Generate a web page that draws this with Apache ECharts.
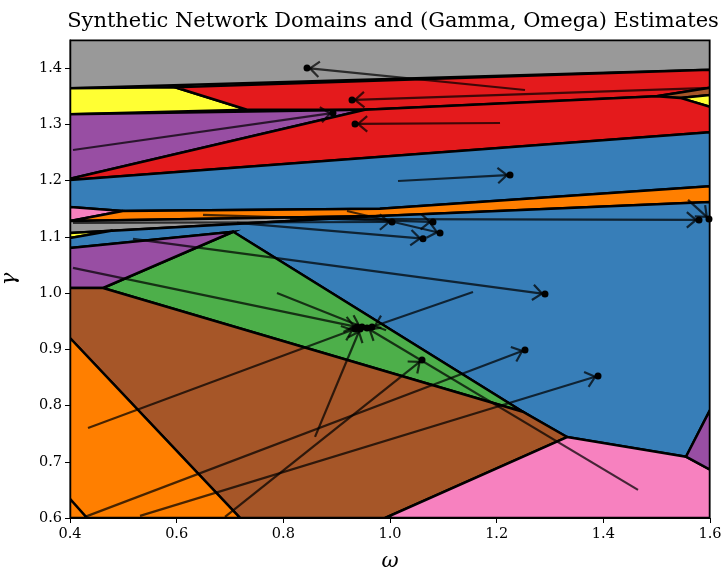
<!DOCTYPE html>
<html><head><meta charset="utf-8">
<script src="https://cdn.jsdelivr.net/npm/echarts@6/dist/echarts.min.js"></script>
<style>html,body{margin:0;padding:0;background:#fff}#c{width:723px;height:571px}</style>
</head><body><div id="c"></div>
<script>
// ---- tick labels ----
const xTicks = [0.4, 0.6, 0.8, 1.0, 1.2, 1.4, 1.6];
const yTicks = [0.6, 0.7, 0.8, 0.9, 1.0, 1.1, 1.2, 1.3, 1.4];

// ---- domain polygons (omega, gamma) ----
const grayTop     = [[0.4,1.45],[1.6,1.45],[1.6,1.397],[0.4,1.364]];
const yellowTop   = [[0.4,1.364],[0.597,1.366],[0.732,1.326],[0.4,1.318]];
const redUpper    = [[0.597,1.366],[1.6,1.397],[1.6,1.365],[1.5,1.35],[0.953,1.326],[0.732,1.326]];
const brownSliver = [[1.5,1.35],[1.6,1.365],[1.6,1.352],[1.544,1.347]];
const yellowRight = [[1.544,1.347],[1.6,1.352],[1.6,1.331]];
const purpleTop   = [[0.4,1.318],[0.953,1.326],[0.4,1.203]];
const redLower    = [[0.4,1.203],[0.953,1.326],[1.5,1.35],[1.544,1.347],[1.6,1.331],[1.6,1.286],[0.4,1.201]];
const blueUpper   = [[0.4,1.201],[1.6,1.286],[1.6,1.190],[0.981,1.150],[0.499,1.146],[0.4,1.153]];
const pinkLeft    = [[0.4,1.153],[0.499,1.146],[0.4,1.128]];
const orangeBand  = [[0.4,1.128],[0.499,1.146],[0.981,1.150],[1.6,1.190],[1.6,1.162],[0.981,1.137]];
const grayMid     = [[0.4,1.128],[0.981,1.137],[0.4,1.107]];
const yellowMid   = [[0.4,1.107],[0.48,1.111],[0.4,1.098]];
const blueMain    = [[0.4,1.098],[0.48,1.111],[0.981,1.137],[1.6,1.162],[1.6,0.792],[1.555,0.709],[1.332,0.744],[1.249,0.789],[0.706,1.109],[0.4,1.080]];
const greenTri    = [[0.706,1.109],[1.249,0.789],[0.462,1.009]];
const purpleMid   = [[0.4,1.080],[0.706,1.109],[0.462,1.009],[0.4,1.009]];
const brownMain   = [[0.4,1.009],[0.462,1.009],[1.249,0.789],[1.332,0.744],[0.991,0.6],[0.719,0.6],[0.4,0.920]];
const orangeLow   = [[0.4,0.920],[0.719,0.6],[0.4,0.6]];
const orangeCorner= [[0.4,0.634],[0.432,0.6],[0.4,0.6]];
const pinkLow     = [[0.991,0.6],[1.332,0.744],[1.555,0.709],[1.6,0.686],[1.6,0.6]];
const purpleLow   = [[1.555,0.709],[1.6,0.792],[1.6,0.686]];

const regionPolys  = [grayTop, yellowTop, redUpper, brownSliver, yellowRight, purpleTop, redLower, blueUpper, pinkLeft, orangeBand, grayMid, yellowMid, blueMain, greenTri, purpleMid, brownMain, orangeLow, orangeCorner, pinkLow, purpleLow];
const regionDomain = ['gray','yellow','red','brown','yellow','purple','red','blue','pink','orange','gray','yellow','blue','green','purple','brown','orange','orange','pink','purple'];

// ---- estimate arrows: start -> end (end marked by dot) ----
const startOmega = [1.2531,1.6000,1.2063,0.4056,1.0150,0.4056,0.6494,0.7131,0.9194,0.8125,1.5588,0.5181,0.4056,0.7881,1.1556,0.8594,0.4338,1.4650,0.6906,0.4281,0.5313];
const startGamma = [1.3611,1.3647,1.3024,1.2544,1.1993,1.1247,1.1389,1.1247,1.1460,1.1318,1.1656,1.0962,1.0447,1.0002,1.0020,0.7442,0.7602,0.6500,0.6020,0.6020,0.6038];
const endOmega   = [0.8444,0.9288,0.9344,0.8931,1.2250,1.0038,1.0806,1.0619,1.0938,1.5794,1.5981,1.2906,0.9381,0.9475,0.9663,0.9438,0.9344,0.9569,1.0600,1.2531,1.3900];
const endGamma   = [1.4002,1.3433,1.3007,1.3202,1.2100,1.1264,1.1264,1.0967,1.1069,1.1300,1.1318,0.9984,0.9398,0.9398,0.9398,0.9362,0.9362,0.9380,0.8811,0.8989,0.8527];

// ---- styles ----
const domainColor = {gray:'#999999', yellow:'#ffff33', red:'#e41a1c', brown:'#a65628', purple:'#984ea3', blue:'#377eb8', pink:'#f781bf', orange:'#ff7f00', green:'#4daf4a'};
const serif = '"DejaVu Serif", serif';

const chart = echarts.init(document.getElementById('c'), null, {renderer:'canvas'});

const arrowData = startOmega.map((v,i)=>[v, startGamma[i], endOmega[i], endGamma[i]]);
const dotData = endOmega.map((v,i)=>[v, endGamma[i]]);

chart.setOption({
  animation:false,
  backgroundColor:'#fff',
  title:{text:'Synthetic Network Domains and (Gamma, Omega) Estimates', left:388, top:6, textAlign:'center',
    textStyle:{fontFamily:serif, fontWeight:'normal', fontSize:21, color:'#000'}},
  grid:{left:70, right:13, top:40, bottom:53, containLabel:false, outerBoundsMode:'none',
    show:true, borderColor:'#000', borderWidth:1.2, backgroundColor:'transparent'},
  xAxis:{type:'value', min:0.4, max:1.6, interval:0.2,
    name:'ω', nameLocation:'middle', nameGap:33,
    nameTextStyle:{fontFamily:serif, fontStyle:'italic', fontSize:21, color:'#000'},
    axisLine:{show:true, onZero:false, lineStyle:{color:'#000', width:1.2}},
    axisTick:{show:true, length:5, lineStyle:{color:'#000'}},
    splitLine:{show:false},
    axisLabel:{fontFamily:serif, fontSize:14.5, color:'#000', margin:9, formatter:v=>v.toFixed(1)}},
  yAxis:{type:'value', min:0.6, max:1.45,
    name:'γ', nameLocation:'middle', nameGap:50, nameRotate:90,
    nameTextStyle:{fontFamily:serif, fontStyle:'italic', fontSize:21, color:'#000'},
    axisLine:{show:true, onZero:false, lineStyle:{color:'#000', width:1.2}},
    axisTick:{show:true, length:5, lineStyle:{color:'#000'}, customValues:yTicks},
    splitLine:{show:false},
    axisLabel:{fontFamily:serif, fontSize:14.5, color:'#000', margin:8, customValues:yTicks, formatter:v=>v.toFixed(1)}},
  series:[
    {type:'custom', clip:true, z:1,
     data: regionPolys.map((p,i)=>[i]),
     renderItem:(params, api)=>{
       const i = params.dataIndex;
       const pts = regionPolys[i].map(pt=>api.coord(pt));
       return {type:'polygon', shape:{points:pts},
         style:{fill:domainColor[regionDomain[i]], stroke:'#000', lineWidth:2.5, lineJoin:'miter'}};
     }},
    {type:'custom', clip:true, z:2,
     data: arrowData,
     renderItem:(params, api)=>{
       const p0 = api.coord([api.value(0), api.value(1)]);
       const p1 = api.coord([api.value(2), api.value(3)]);
       const dx=p1[0]-p0[0], dy=p1[1]-p0[1];
       const L=Math.hypot(dx,dy)||1; const ux=dx/L, uy=dy/L;
       const tip=[p1[0]-ux*3, p1[1]-uy*3];
       const h=12, a=40*Math.PI/180, c=Math.cos(a), s=Math.sin(a);
       const b1=[tip[0]-h*(ux*c-uy*s), tip[1]-h*(uy*c+ux*s)];
       const b2=[tip[0]-h*(ux*c+uy*s), tip[1]-h*(uy*c-ux*s)];
       const st={stroke:'rgba(0,0,0,0.72)', lineWidth:2.2, fill:null};
       return {type:'group', children:[
         {type:'polyline', shape:{points:[p0,tip]}, style:st},
         {type:'polyline', shape:{points:[b1,tip,b2]}, style:st}
       ]};
     }},
    {type:'scatter', z:3, data:dotData, symbol:'circle', symbolSize:7,
     itemStyle:{color:'#000', opacity:1}, silent:true}
  ]
});
</script>
</body></html>
